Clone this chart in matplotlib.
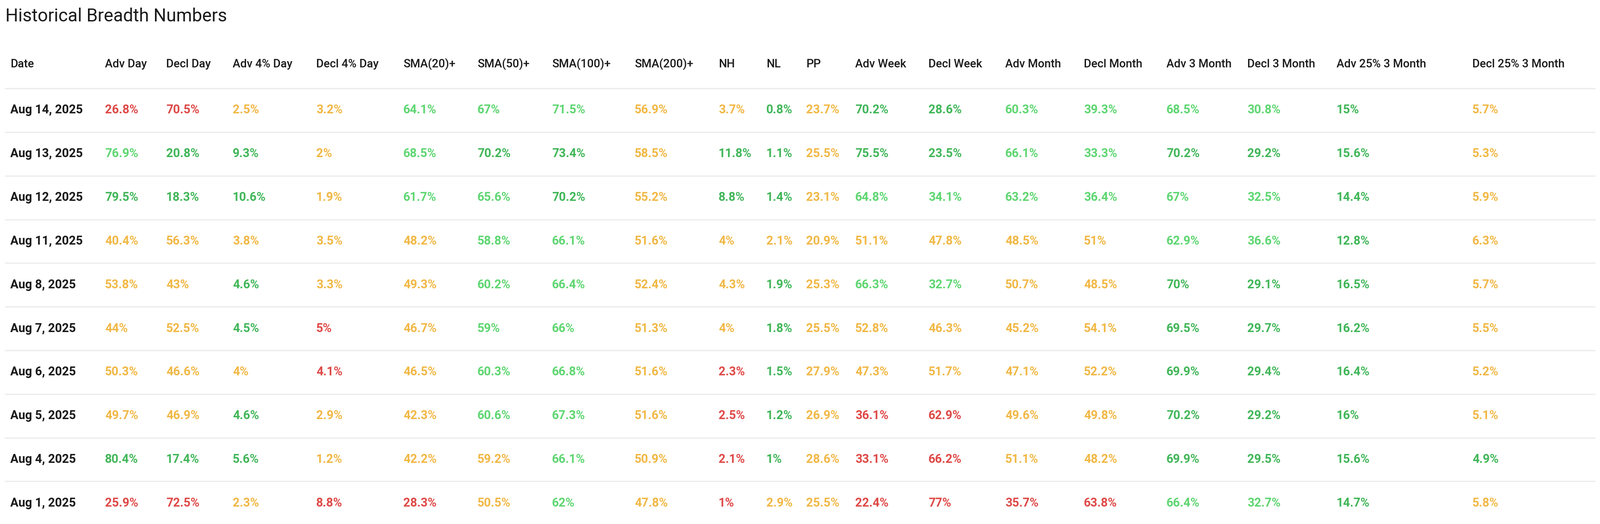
import matplotlib
matplotlib.use("Agg")
import matplotlib.pyplot as plt

# ── Data ──────────────────────────────────────────────────────────────────────
columns = ["Date", "Adv Day", "Decl Day", "Adv 4% Day", "Decl 4% Day", "SMA(20)+",
           "SMA(50)+", "SMA(100)+", "SMA(200)+", "NH", "NL", "PP", "Adv Week",
           "Decl Week", "Adv Month", "Decl Month", "Adv 3 Month", "Decl 3 Month",
           "Adv 25% 3 Month", "Decl 25% 3 Month"]

dates = ["Aug 14, 2025", "Aug 13, 2025", "Aug 12, 2025", "Aug 11, 2025", "Aug 8, 2025",
         "Aug 7, 2025", "Aug 6, 2025", "Aug 5, 2025", "Aug 4, 2025", "Aug 1, 2025"]

values = [
    ["26.8", "70.5", "2.5", "3.2", "64.1", "67", "71.5", "56.9", "3.7", "0.8", "23.7", "70.2", "28.6", "60.3", "39.3", "68.5", "30.8", "15", "5.7"],
    ["76.9", "20.8", "9.3", "2", "68.5", "70.2", "73.4", "58.5", "11.8", "1.1", "25.5", "75.5", "23.5", "66.1", "33.3", "70.2", "29.2", "15.6", "5.3"],
    ["79.5", "18.3", "10.6", "1.9", "61.7", "65.6", "70.2", "55.2", "8.8", "1.4", "23.1", "64.8", "34.1", "63.2", "36.4", "67", "32.5", "14.4", "5.9"],
    ["40.4", "56.3", "3.8", "3.5", "48.2", "58.8", "66.1", "51.6", "4", "2.1", "20.9", "51.1", "47.8", "48.5", "51", "62.9", "36.6", "12.8", "6.3"],
    ["53.8", "43", "4.6", "3.3", "49.3", "60.2", "66.4", "52.4", "4.3", "1.9", "25.3", "66.3", "32.7", "50.7", "48.5", "70", "29.1", "16.5", "5.7"],
    ["44", "52.5", "4.5", "5", "46.7", "59", "66", "51.3", "4", "1.8", "25.5", "52.8", "46.3", "45.2", "54.1", "69.5", "29.7", "16.2", "5.5"],
    ["50.3", "46.6", "4", "4.1", "46.5", "60.3", "66.8", "51.6", "2.3", "1.5", "27.9", "47.3", "51.7", "47.1", "52.2", "69.9", "29.4", "16.4", "5.2"],
    ["49.7", "46.9", "4.6", "2.9", "42.3", "60.6", "67.3", "51.6", "2.5", "1.2", "26.9", "36.1", "62.9", "49.6", "49.8", "70.2", "29.2", "16", "5.1"],
    ["80.4", "17.4", "5.6", "1.2", "42.2", "59.2", "66.1", "50.9", "2.1", "1", "28.6", "33.1", "66.2", "51.1", "48.2", "69.9", "29.5", "15.6", "4.9"],
    ["25.9", "72.5", "2.3", "8.8", "28.3", "50.5", "62", "47.8", "1", "2.9", "25.5", "22.4", "77", "35.7", "63.8", "66.4", "32.7", "14.7", "5.8"],
]

# R = red, O = orange, G = light green, D = dark green
ratings = [
    "R R O O G G G O O D O D D G G G G D O",
    "G D D O G D D O D D O D D G G D D D O",
    "D D D O G G D O D D O G G G G G G D O",
    "O O O O O G G O O O O O O O O G G D O",
    "O O D O O G G O O D O G G O O D D D O",
    "O O D R O G G O O D O O O O O D D D O",
    "O O O R O G G O R D O O O O O D D D O",
    "O O D O O G G O R D O R R O O D D D O",
    "D D D O O O G O R D O R R O O D D D D",
    "R R O R R O G O R O O R R R R G G D O",
]

# ── Style ─────────────────────────────────────────────────────────────────────
COLORS = {"R": "#de4a48", "O": "#f1b846", "G": "#5fd672", "D": "#41b659"}
TEXT_COL = "#1a1a1a"
LINE_COL = "#ececec"
W, H = 3583, 1174
col_x = [23, 235, 372, 521, 708, 903, 1069, 1236, 1421, 1609, 1716, 1805, 1915,
         2079, 2251, 2427, 2612, 2793, 2993, 3297]
header_y = 144
first_row_y = 247
row_h = 97.8

plt.rcParams["font.family"] = "Roboto"

fig = plt.figure(figsize=(W / 100, H / 100), dpi=100)
ax = fig.add_axes([0, 0, 1, 1])
ax.set_xlim(0, W)
ax.set_ylim(H, 0)
ax.axis("off")

ax.text(12, 36, "Historical Breadth Numbers", fontsize=29, color=TEXT_COL,
        va="center", ha="left")

for x, name in zip(col_x, columns):
    ax.text(x, header_y, name, fontsize=18.5, fontweight="medium", color=TEXT_COL,
            va="center", ha="left")

ax.plot([12, W - 12], [first_row_y - row_h / 2] * 2, color=LINE_COL, lw=2)

for i, (d, vals, rats) in enumerate(zip(dates, values, ratings)):
    y = first_row_y + i * row_h
    ax.text(col_x[0], y, d, fontsize=19.5, fontweight="bold", color=TEXT_COL,
            va="center", ha="left")
    for x, v, r in zip(col_x[1:], vals, rats.split()):
        ax.text(x, y, v + "%", fontsize=19.5, fontweight="bold", color=COLORS[r],
                va="center", ha="left")
    if i < len(dates) - 1:
        ax.plot([12, W - 12], [y + row_h / 2] * 2, color=LINE_COL, lw=2)

fig.savefig("out.png", dpi=100, facecolor="white")
